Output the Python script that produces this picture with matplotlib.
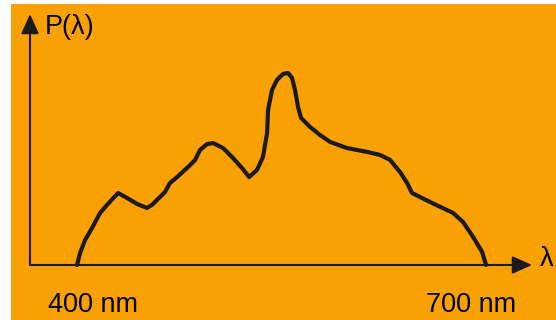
import matplotlib
matplotlib.use('Agg')
import matplotlib.pyplot as plt
from matplotlib.patches import Rectangle

# Spectral power curve (wavelength in nm, relative power)
wavelength = [400.0, 402.2, 405.9, 411.0, 416.9, 422.0, 430.1, 436.7, 444.0, 451.3,
              455.0, 458.7, 464.5, 468.2, 473.4, 481.4, 486.6, 490.2, 495.4, 499.8,
              507.1, 514.4, 521.0, 526.2, 532.0, 536.4, 539.4, 540.1, 543.0, 546.7,
              551.1, 554.8, 557.7, 559.9, 562.1, 564.3, 570.9, 578.2, 585.6, 598.0,
              612.7, 622.3, 629.6, 636.9, 642.1, 645.7, 658.9, 675.8, 683.1, 690.5,
              697.1, 700.0]
power = [0.0, 0.062, 0.130, 0.193, 0.271, 0.313, 0.375, 0.349, 0.318, 0.297,
         0.313, 0.339, 0.380, 0.427, 0.458, 0.510, 0.547, 0.599, 0.630, 0.635,
         0.609, 0.557, 0.505, 0.458, 0.495, 0.563, 0.688, 0.807, 0.911, 0.964,
         0.995, 1.0, 0.974, 0.911, 0.823, 0.766, 0.719, 0.677, 0.641, 0.609,
         0.589, 0.573, 0.547, 0.484, 0.427, 0.375, 0.328, 0.271, 0.224, 0.146,
         0.068, 0.0]
tick_labels = ['400 nm', '700 nm']
tick_pos = [411.7, 689.0]

ink = '#1c1a18'
orange = '#F9A102'

plt.rcParams['font.family'] = ['Liberation Sans', 'DejaVu Sans']

fig = plt.figure(figsize=(5.56, 3.2), dpi=100)
fig.patch.set_facecolor('white')

ax = fig.add_axes([0, 0, 1, 1])
ax.set_facecolor('none')
ax.set_xlim(343.5, 751.3)
ax.set_ylim(-0.2865, 1.380)
ax.axis('off')

# orange panel (white strip left and top)
ax.add_patch(Rectangle((11 / 556, 0), 1, 316 / 320, transform=fig.transFigure,
                       facecolor=orange, edgecolor='none', zorder=-5))

# axes with arrow heads
x0 = 365.5
arrow = dict(arrowstyle='-|>,head_length=0.6,head_width=0.27', mutation_scale=20,
             lw=1.5, color=ink, shrinkA=0, shrinkB=0)
ax.annotate('', xy=(733.7, 0), xytext=(x0, 0), arrowprops=arrow)
ax.annotate('', xy=(x0, 1.307), xytext=(x0, 0), arrowprops=arrow)

# curve
ax.plot(wavelength, power, color=ink, lw=3.0, solid_joinstyle='round',
        solid_capstyle='round')

# text
fs = 19.5
ax.text(400 + (45 - 77) * 0.7335, (265 - 34) / 192, 'P(λ)', fontsize=fs,
        ha='left', va='baseline', color='black')
ax.text(400 + (540 - 77) * 0.7335, (265 - 266) / 192, 'λ', fontsize=fs,
        ha='left', va='baseline', color='black')
for pos, lab in zip(tick_pos, tick_labels):
    ax.text(pos, (265 - 312) / 192, lab, fontsize=fs, ha='center', va='baseline',
            color='black')

fig.savefig('out.png', dpi=100)
